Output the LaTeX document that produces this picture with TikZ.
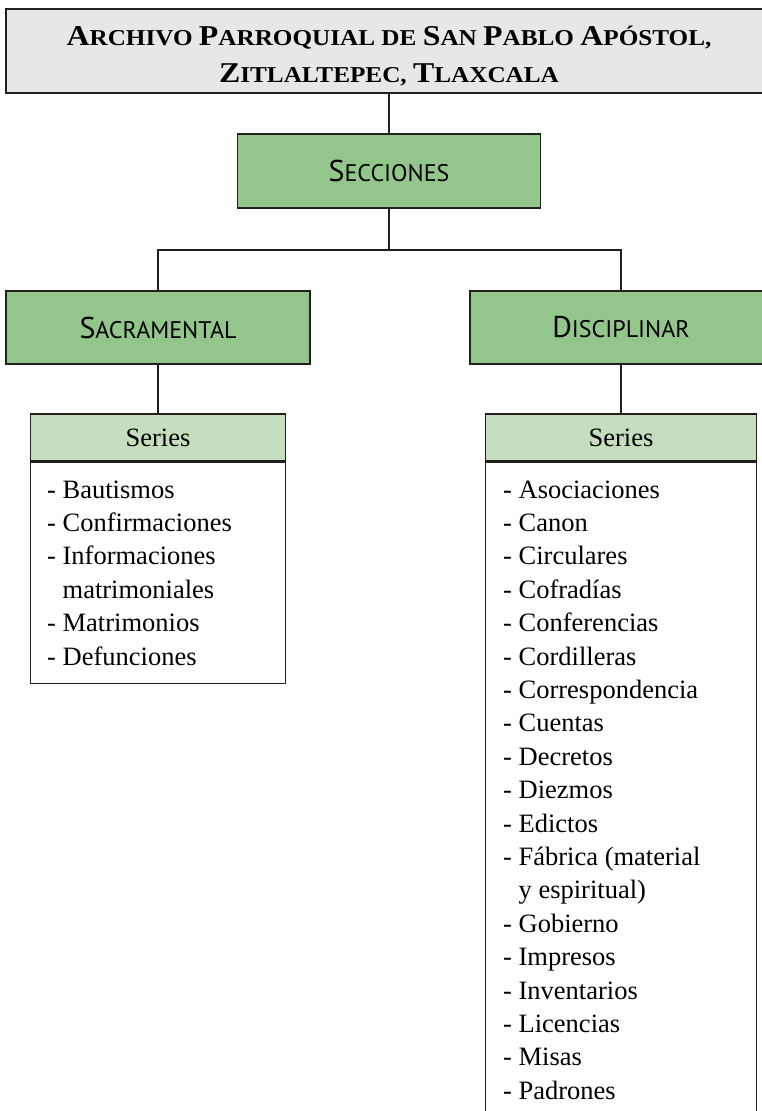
\documentclass[tikz,border=0pt]{standalone}
\usepackage{fontspec}
\setmainfont{Liberation Serif}
\newfontfamily\hdrfont{PT Sans}
\definecolor{boxgreen}{RGB}{147,198,138}
\definecolor{lightgreen}{RGB}{197,223,190}
\definecolor{titlegray}{RGB}{230,231,232}
\definecolor{edge}{RGB}{35,31,32}
\newcommand\mysc[2]{{\fontsize{30}{30}\selectfont #1}{\fontsize{24}{24}\selectfont #2}}
\newcommand\mytsc[2]{{\fontsize{28.7}{30}\selectfont #1}{\fontsize{22.7}{24}\selectfont #2}}
\tikzset{
  box/.style={draw=edge, line width=1.2pt, inner sep=0pt, rectangle},
  secbox/.style={box, fill=boxgreen, font=\hdrfont\fontsize{24}{24}\selectfont},
  hdrbox/.style={box, fill=lightgreen, font=\fontsize{26.5}{30}\selectfont},
  bodybox/.style={box, fill=white},
  item/.style={anchor=base west, inner sep=0pt, font=\fontsize{26.5}{30}\selectfont},
  titletext/.style={anchor=base, inner sep=0pt, font=\bfseries\fontsize{22.7}{24}\selectfont},
  link/.style={draw=edge, line width=1.2pt}
}
\begin{document}
\begin{tikzpicture}[x=1pt,y=-1pt]
\useasboundingbox (0,0) rectangle (762,1111);
\clip (0,0) rectangle (762,1111);
% title
\node[box, fill=titlegray, minimum width=766pt, minimum height=84pt] (title) at (389,51) {};
\node[titletext] (t1) at (389,45) {\scalebox{1.11}[1]{\mytsc{A}{RCHIVO} \mytsc{P}{ARROQUIAL} \mytsc{}{DE} \mytsc{S}{AN} \mytsc{P}{ABLO} \mytsc{A}{PÓSTOL,}}};
\node[titletext] (t2) at (389,82) {\scalebox{1.11}[1]{\mytsc{Z}{ITLALTEPEC,} \mytsc{T}{LAXCALA}}};
% sections
\node[secbox, minimum width=303pt, minimum height=74pt] (secc) at (389,171) {\mysc{S}{ECCIONES}};
\node[secbox, minimum width=304pt, minimum height=73pt] (sac) at (158,327.5) {\mysc{S}{ACRAMENTAL}};
\node[secbox, minimum width=302pt, minimum height=73pt] (dis) at (621,327.5) {\mysc{D}{ISCIPLINAR}};
\coordinate (j) at (389,250);
\draw[link] (title.south) -- (secc.north);
\draw[link] (secc.south) -- (j);
\draw[link] (sac.north) |- (j) -| (dis.north);
% series boxes
\node[hdrbox, minimum width=255pt, minimum height=47pt] (sl) at (158,437.5) {Series};
\node[bodybox, minimum width=255pt, minimum height=221pt, anchor=north] (slb) at (sl.south) {};
\node[hdrbox, minimum width=271pt, minimum height=47pt] (sr) at (621,437.5) {Series};
\node[bodybox, minimum width=271pt, minimum height=700pt, anchor=north] (srb) at (sr.south) {};
\draw[link] (sac.south) -- (sl.north);
\draw[link] (dis.south) -- (sr.north);
% left list
\foreach \xo/\t [count=\i] in {0/{- Bautismos},0/{- Confirmaciones},0/{- Informaciones},15.45/{matrimoniales},0/{- Matrimonios},0/{- Defunciones}}
  \node[item] (l\i) at ({47+\xo},{498+(\i-1)*33.4}) {\t};
% right list
\foreach \xo/\t [count=\i] in {0/{- Asociaciones},0/{- Canon},0/{- Circulares},0/{- Cofradías},0/{- Conferencias},0/{- Cordilleras},0/{- Correspondencia},0/{- Cuentas},0/{- Decretos},0/{- Diezmos},0/{- Edictos},0/{- Fábrica (material},15.45/{y espiritual)},0/{- Gobierno},0/{- Impresos},0/{- Inventarios},0/{- Licencias},0/{- Misas},0/{- Padrones}}
  \node[item] (r\i) at ({503+\xo},{498+(\i-1)*33.4}) {\t};
\end{tikzpicture}
\end{document}
